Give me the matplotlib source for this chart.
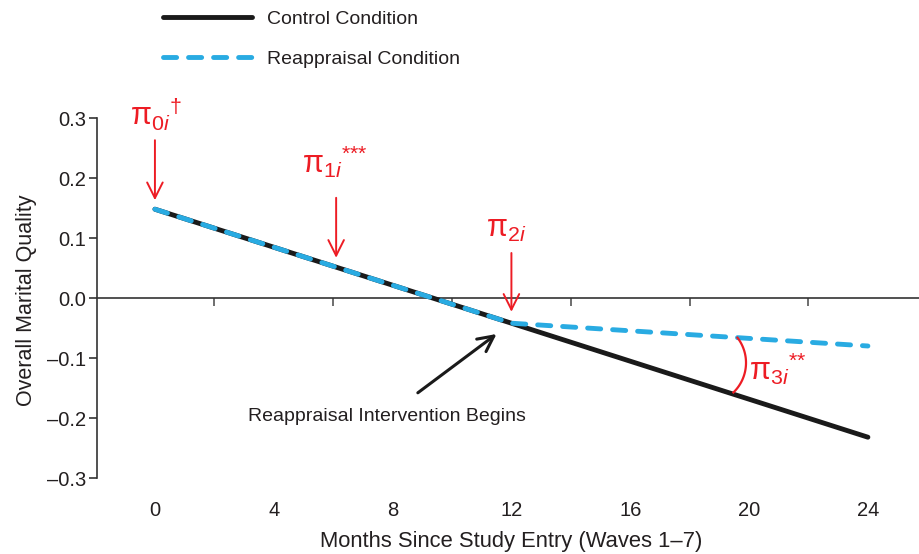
import numpy as np
import matplotlib
matplotlib.use("Agg")
import matplotlib.pyplot as plt
from matplotlib.transforms import blended_transform_factory

plt.rcParams['font.family'] = ['Liberation Sans', 'DejaVu Sans']
plt.rcParams['mathtext.fontset'] = 'custom'
plt.rcParams['mathtext.rm'] = 'Liberation Sans'
plt.rcParams['mathtext.it'] = 'Liberation Sans:italic'
plt.rcParams['mathtext.default'] = 'rm'

# ---- data ----
control_x = [0, 24]
control_y = [0.148, -0.232]
reapp_x = [0, 12, 24]
reapp_y = [0.148, -0.042, -0.080]
xtick_labels = [0, 4, 8, 12, 16, 20, 24]
minor_xticks = [2, 6, 10, 14, 18, 22]
yticks = [-0.3, -0.2, -0.1, 0.0, 0.1, 0.2, 0.3]

TXT = '#231f20'
RED = '#ed1c24'
BLUE = '#29abe2'

fig = plt.figure(figsize=(9.19, 5.54), dpi=100)
ax = fig.add_axes([97/919, 1-478/554, 1-97/919, 360/554])
ax.set_xlim(-1.95, 25.72)
ax.set_ylim(-0.3, 0.3)

ax.plot(control_x, control_y, color='#1a1a1a', lw=3.5, solid_capstyle='round', label='Control Condition', zorder=3)
ax.plot(reapp_x, reapp_y, color=BLUE, lw=3.5, linestyle=(0, (2.7, 2.45)), dash_capstyle='round',
        label='Reappraisal Condition', zorder=4)

for s in ['top', 'right']:
    ax.spines[s].set_visible(False)
ax.spines['bottom'].set_position(('data', 0))
ax.spines['bottom'].set_color('#333333')
ax.spines['left'].set_color('#333333')
ax.spines['bottom'].set_linewidth(1.2)
ax.spines['left'].set_linewidth(1.2)

ax.set_xticks(minor_xticks)
ax.set_xticklabels([])
ax.tick_params(axis='x', direction='out', length=6, width=1.2, color='#555555')
ax.set_yticks(yticks)
ax.set_yticklabels([f"{v:.1f}".replace('-', '\u2013') if v != 0 else "0.0" for v in yticks])
ax.tick_params(axis='y', direction='out', length=6, width=1.2, color='#333333', labelsize=14.5,
               labelcolor=TXT, pad=1.5)

trans = blended_transform_factory(ax.transData, ax.transAxes)
for v in xtick_labels:
    ax.text(v, -33/360, str(v), transform=trans, ha='center', va='center', fontsize=14.5, color=TXT)

ax.text(12, -64/360, 'Months Since Study Entry (Waves 1\u20137)', transform=trans, ha='center', va='center',
        fontsize=15.8, color=TXT)
fig.text(27/919, 1-300/554, 'Overall Marital Quality', rotation=90, ha='center', va='center', fontsize=15.5,
         color=TXT)

# legend
fig.legend(loc='upper left', bbox_to_anchor=(163/919, 1-10/554), frameon=False, fontsize=14,
           handlelength=4.6, handletextpad=0.75, labelspacing=1.15, borderpad=0, borderaxespad=0,
           labelcolor=TXT)

# red annotations
PI_FS = 22
arrowprops = dict(arrowstyle='->', color=RED, lw=1.4, mutation_scale=28, shrinkA=0, shrinkB=0)
ax.annotate('', xy=(0, 0.163), xytext=(0, 0.263), arrowprops=arrowprops)
ax.text(-0.85, 0.287, r'${\mathrm{\pi}_{0\mathit{i}}}^{\dagger}$', color=RED, fontsize=PI_FS, ha='left',
        va='baseline')
ax.annotate('', xy=(6.1, 0.067), xytext=(6.1, 0.167), arrowprops=arrowprops)
ax.text(4.95, 0.209, r'${\mathrm{\pi}_{1\mathit{i}}}^{\text{***}}$', color=RED, fontsize=PI_FS, ha='left',
        va='baseline')
ax.annotate('', xy=(12, -0.023), xytext=(12, 0.075), arrowprops=arrowprops)
ax.text(11.15, 0.102, r'$\mathrm{\pi}_{2\mathit{i}}$', color=RED, fontsize=PI_FS, ha='left', va='baseline')
ax.text(20.0, -0.137, r'${\mathrm{\pi}_{3\mathit{i}}}^{\text{**}}$', color=RED, fontsize=PI_FS, ha='left',
        va='baseline')

# angle arc between the two lines (circle in pixel space)
sx = (868 - 155) / 24.0   # px per month
sy = 600.0                # px per unit
acx, acy = 18.51, -0.108
R = 41.2
th = np.linspace(np.deg2rad(37.5), np.deg2rad(-46), 60)
ax.plot(acx + R * np.cos(th) / sx, acy + R * np.sin(th) / sy, color=RED, lw=1.6, zorder=5)

# black annotation
ax.annotate('', xy=(11.5, -0.06), xytext=(8.85, -0.158),
            arrowprops=dict(arrowstyle='->', color='#1a1a1a', lw=2.2, mutation_scale=28, shrinkA=0, shrinkB=0))
ax.text(7.8, -0.197, 'Reappraisal Intervention Begins', ha='center', va='center', fontsize=14, color=TXT)

fig.savefig('out.png', dpi=100)
